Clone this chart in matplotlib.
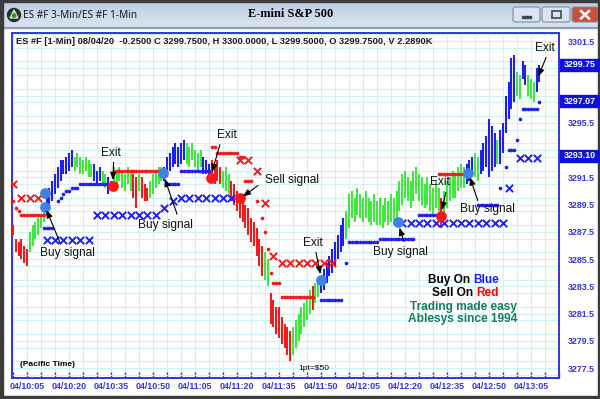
import numpy as np
import matplotlib
matplotlib.use("Agg")
import matplotlib.pyplot as plt
from matplotlib.patches import Rectangle, FancyBboxPatch, Circle, Polygon
from matplotlib.transforms import blended_transform_factory
from matplotlib.ticker import MultipleLocator
from matplotlib.colors import LinearSegmentedColormap

# ---------------- data ----------------
first_bar = -5  # minutes after 10:05 of the first 1-min bar
highs = [
    3288.0, 3287.0, 3286.75, 3287.0, 3286.5, 3286.25, 3287.5, 3288.0, 3288.25, 3288.5,
    3288.75, 3289.25, 3290.25, 3290.75, 3291.25, 3291.75, 3292.25, 3292.75, 3292.75, 3293.0,
    3293.25, 3293.5, 3293.0, 3293.25, 3293.0, 3292.75, 3293.0, 3292.75, 3292.5, 3292.5,
    3292.0, 3292.25, 3292.0, 3291.75, 3291.5, 3291.25, 3292.25, 3292.0, 3292.25, 3292.0,
    3291.75, 3292.25, 3292.0, 3291.75, 3291.5, 3291.75, 3291.5, 3291.0, 3290.75, 3291.25,
    3291.75, 3292.0, 3292.25, 3292.25, 3292.25, 3293.0, 3293.25, 3293.75, 3294.0, 3293.75,
    3294.0, 3294.25, 3294.0, 3293.75, 3294.0, 3293.5, 3293.25, 3293.5, 3293.0, 3292.75,
    3292.5, 3292.75, 3292.5, 3292.75, 3292.25, 3292.0, 3292.25, 3291.75, 3291.25, 3291.0,
    3290.5, 3290.25, 3290.0, 3289.5, 3289.25, 3288.5, 3288.25, 3287.75, 3287.0, 3286.5,
    3286.0, 3285.5, 3283.0, 3282.5, 3282.0, 3282.0, 3281.25, 3280.75, 3280.5, 3280.25,
    3280.5, 3281.0, 3281.5, 3282.0, 3282.25, 3282.75, 3283.25, 3283.5, 3283.75, 3284.0,
    3284.25, 3284.75, 3285.25, 3285.75, 3286.25, 3286.75, 3287.25, 3288.0, 3288.5, 3289.0,
    3290.25, 3290.5, 3290.0, 3290.75, 3290.25, 3290.0, 3290.5, 3290.0, 3289.75, 3290.25,
    3289.75, 3290.0, 3289.5, 3290.0, 3289.75, 3290.25, 3290.0, 3290.5, 3291.25, 3291.75,
    3292.0, 3291.5, 3291.25, 3292.0, 3292.25, 3291.75, 3291.5, 3291.0, 3291.5, 3291.0,
    3290.75, 3291.25, 3290.75, 3290.0, 3290.5, 3291.25, 3291.5, 3292.0, 3291.75, 3292.25,
    3292.5, 3292.25, 3292.5, 3292.75, 3293.0, 3293.25, 3293.0, 3293.5, 3294.0, 3294.5,
    3295.75, 3295.25, 3294.75, 3294.25, 3295.0, 3295.5, 3297.5, 3298.5, 3300.25, 3300.5,
    3299.25, 3299.0, 3300.0, 3299.75, 3299.0, 3298.75, 3298.5, 3299.5, 3299.75,
]
lows = [
    3287.25, 3286.0, 3285.75, 3285.5, 3285.25, 3285.0, 3286.0, 3286.5, 3287.0, 3287.25,
    3287.75, 3288.25, 3288.75, 3289.25, 3289.75, 3290.25, 3290.75, 3291.25, 3291.75, 3291.75,
    3292.0, 3292.25, 3292.0, 3292.25, 3291.75, 3291.75, 3292.0, 3291.5, 3291.5, 3291.25,
    3291.0, 3291.25, 3291.0, 3290.75, 3290.25, 3290.5, 3291.0, 3290.75, 3291.25, 3290.75,
    3290.5, 3291.0, 3290.5, 3290.0, 3289.25, 3290.5, 3290.0, 3289.75, 3289.75, 3290.0,
    3290.25, 3290.75, 3291.0, 3291.25, 3291.25, 3291.5, 3292.0, 3292.25, 3292.5, 3292.25,
    3292.5, 3292.75, 3292.5, 3292.25, 3292.75, 3292.25, 3292.0, 3292.25, 3291.75, 3291.75,
    3291.5, 3291.25, 3291.0, 3291.25, 3291.0, 3290.75, 3290.5, 3290.25, 3289.75, 3289.5,
    3289.0, 3288.5, 3288.25, 3287.75, 3287.25, 3286.75, 3286.5, 3285.75, 3285.0, 3284.25,
    3284.0, 3283.5, 3280.75, 3280.5, 3280.0, 3279.75, 3279.25, 3279.0, 3278.5, 3278.0,
    3278.5, 3279.0, 3279.5, 3280.0, 3280.5, 3281.0, 3281.5, 3281.75, 3282.25, 3282.75,
    3283.0, 3283.25, 3283.75, 3284.25, 3284.5, 3285.0, 3285.5, 3286.0, 3286.5, 3287.0,
    3287.75, 3288.5, 3288.25, 3288.75, 3288.5, 3288.25, 3288.5, 3288.25, 3288.0, 3288.25,
    3288.0, 3288.0, 3287.75, 3288.25, 3288.0, 3288.25, 3288.0, 3288.5, 3289.0, 3289.5,
    3290.0, 3289.75, 3289.25, 3289.75, 3290.25, 3289.75, 3289.5, 3289.25, 3289.5, 3289.0,
    3288.75, 3289.25, 3289.0, 3287.75, 3288.75, 3289.25, 3289.75, 3290.0, 3290.0, 3290.5,
    3290.75, 3290.75, 3291.0, 3291.25, 3291.5, 3291.5, 3291.25, 3291.75, 3292.0, 3292.25,
    3291.5, 3292.0, 3292.25, 3292.5, 3292.5, 3293.25, 3294.75, 3295.75, 3296.5, 3297.0,
    3297.5, 3297.25, 3298.75, 3298.25, 3297.5, 3297.25, 3297.0, 3297.75, 3298.5,
]
color_runs = [
    ("r", 6), ("g", 6), ("b", 10), ("g", 7), ("b", 3), ("g", 2), ("b", 1), ("r", 1),
    ("g", 7), ("r", 2), ("g", 1), ("r", 3), ("g", 5), ("b", 8), ("g", 6), ("b", 3),
    ("r", 4), ("g", 3), ("r", 12), ("g", 2), ("r", 8), ("g", 7), ("r", 1), ("g", 2),
    ("b", 9), ("g", 34), ("r", 1), ("g", 8), ("b", 3), ("g", 2), ("b", 6), ("g", 1),
    ("b", 6), ("g", 2), ("b", 2), ("g", 3), ("b", 2),
]

# indicator levels: (first minute, last minute, price)
red_dot_runs = [
    (-5, -5, 3289.75), (-4, -4, 3289.25), (-3, -3, 3289.0), (-2, 6, 3288.75),
    (31, 49, 3292.0),
    (66, 67, 3293.75), (68, 75, 3293.25), (76, 77, 3293.0),
    (78, 80, 3291.25), (82, 82, 3289.75), (84, 84, 3288.5), (85, 85, 3287.5),
    (86, 86, 3286.25), (87, 87, 3284.5), (88, 90, 3283.75), (91, 102, 3282.75),
    (147, 156, 3291.75),
]
blue_dot_runs = [
    (6, 9, 3287.75), (11, 11, 3289.75), (12, 12, 3290.0), (13, 13, 3290.25),
    (14, 15, 3290.5), (16, 18, 3290.75), (19, 30, 3291.0),
    (50, 54, 3291.0), (55, 65, 3292.0),
    (105, 112, 3282.5), (114, 114, 3285.25), (115, 125, 3286.75), (126, 138, 3287.0),
    (140, 146, 3288.75), (161, 168, 3289.5), (169, 169, 3290.75), (171, 171, 3292.25),
    (172, 174, 3293.5), (175, 175, 3294.25), (176, 176, 3295.75), (177, 182, 3296.5),
    (183, 183, 3297.0),
]
# 3-min target markers: (first minute, last minute, price)
red_x_runs = [
    (-5, -5, 3291.0), (-2, 4, 3290.0), (76, 79, 3292.75), (82, 82, 3292.0),
    (85, 85, 3289.6), (88, 88, 3285.75), (91, 109, 3285.25),
]
blue_x_runs = [
    (7, 22, 3286.9), (25, 46, 3288.75), (49, 49, 3289.25), (52, 52, 3289.75),
    (55, 73, 3290.0), (134, 170, 3288.15), (172, 172, 3290.75), (176, 182, 3292.9),
]
blue_sig_t = [6.4, 6.4, 48.6, 105.0, 132.5, 157.5]
blue_sig_p = [3290.35, 3289.3, 3291.8, 3284.0, 3288.2, 3291.8]
red_sig_t = [30.7, 65.7, 76.0, 148.0]
red_sig_p = [3290.86, 3291.45, 3290.0, 3288.66]

# annotations: label, text position (minute, price), arrow start, arrow end
notes = [
    ("Buy signal", (14.6, 3285.95), (11.8, 3286.7), (7.0, 3289.1)),
    ("Exit", (30.0, 3293.3), (30.9, 3292.6), (30.7, 3291.3)),
    ("Buy signal", (49.6, 3288.0), (53.6, 3288.8), (49.2, 3291.4)),
    ("Exit", (71.4, 3294.6), (68.9, 3293.9), (66.1, 3291.9)),
    ("Sell signal", (94.6, 3291.3), (82.5, 3290.9), (77.1, 3290.1)),
    ("Exit", (102.1, 3286.7), (103.2, 3286.0), (104.8, 3284.4)),
    ("Buy signal", (133.2, 3286.0), (134.6, 3286.8), (133.0, 3287.8)),
    ("Exit", (147.5, 3291.15), (149.6, 3290.4), (148.2, 3289.1)),
    ("Buy signal", (164.6, 3289.2), (161.0, 3289.8), (158.2, 3291.5)),
    ("Exit", (185.0, 3301.0), (185.4, 3300.3), (182.6, 3298.9)),
]

x_tick_minutes = list(range(0, 181, 15))
x_tick_labels = ["04/10:05", "04/10:20", "04/10:35", "04/10:50", "04/11:05", "04/11:20",
                 "04/11:35", "04/11:50", "04/12:05", "04/12:20", "04/12:35", "04/12:50",
                 "04/13:05"]
y_ticks = [3277.5 + 2 * i for i in range(13)]
price_boxes = [3299.75, 3297.07, 3293.10]

header = ("ES #F [1-Min] 08/04/20  -0.2500 C 3299.7500, H 3300.0000, "
          "L 3299.5000, O 3299.7500, V 2.2890K")

# ---------------- styling ----------------
RED = "#f21a1a"
GREEN = "#3ee83e"
BLUE = "#1f1ff0"
CMAP = {"r": RED, "g": GREEN, "b": BLUE}
AXBLUE = "#3434d8"
GRID = "#cdf4f4"
FONT = "Liberation Sans"

W, H = 600, 399
fig = plt.figure(figsize=(W / 100, H / 100), dpi=100)
fig.patch.set_facecolor("white")

# --- window chrome (pixel coordinates) ---
bg = fig.add_axes([0, 0, 1, 1])
bg.set_xlim(0, W)
bg.set_ylim(H, 0)
bg.axis("off")
grad = np.linspace(0, 1, 64).reshape(-1, 1)
tcm = LinearSegmentedColormap.from_list("tb", ["#b9cce1", "#d9e4f0"])
bg.imshow(grad, extent=[0, W, 27, 0], cmap=tcm, aspect="auto", zorder=0)
bg.add_patch(Rectangle((0, 27), W, 1, color="#8fa0b5", zorder=1))
for r in [Rectangle((0, 0), W, 1.5), Rectangle((0, H - 3), W, 3),
          Rectangle((0, 0), 2.5, H), Rectangle((W - 2.5, 0), 2.5, H)]:
    r.set_color("#3c3c3c")
    r.set_zorder(3)
    bg.add_patch(r)
bg.add_patch(Circle((14, 15), 6.5, color="#2e2e2e", zorder=2))
bg.add_patch(Polygon([[14, 10], [10, 18], [18, 18]], closed=True, color="#bfe8b0", zorder=3))
bg.add_patch(Circle((14, 15.5), 1.6, color="#3a8a3a", zorder=4))
bg.text(23, 15.5, "ES #F 3-Min/ES #F 1-Min", fontsize=7.2, family="Noto Sans",
        va="center", ha="left", color="#1a1a1a")
bg.text(291, 14, "E-mini S&P 500", fontsize=8.8, family="Liberation Serif",
        fontweight="bold", va="center", ha="center", color="black")
for x0, w, fc in [(513, 27, "#dbe4ee"), (542, 28, "#dbe4ee"), (572, 26, "#c9503f")]:
    bg.add_patch(FancyBboxPatch((x0, 7), w, 15, boxstyle="round,pad=0,rounding_size=2.5",
                                fc=fc, ec="#7d8ea3", lw=0.8, zorder=2))
bg.add_patch(Rectangle((522, 15.5), 9, 2.2, color="#3a4a5e", zorder=3))
bg.add_patch(Rectangle((551.5, 11), 9, 7, fill=False, ec="#3a4a5e", lw=1.2, zorder=3))
bg.plot([581, 589], [11, 18.5], color="white", lw=1.8, zorder=3)
bg.plot([581, 589], [18.5, 11], color="white", lw=1.8, zorder=3)

# --- main chart axes ---
L, T, R, B = 12, 33, 559, 378
ax = fig.add_axes([L / W, 1 - B / H, (R - L) / W, (B - T) / H])
ax.set_facecolor("white")
ax.set_xlim(-5.36, 190.0)
ax.set_ylim(3276.78, 3302.09)

ax.set_xticks(x_tick_minutes)
ax.set_xticklabels(x_tick_labels)
ax.xaxis.set_minor_locator(MultipleLocator(5))
ax.set_yticks(y_ticks)


def covered(v):
    return any(abs(v - b) < 0.75 for b in price_boxes)


ax.set_yticklabels(["" if covered(v) else f"{v:.1f}" for v in y_ticks])
ax.yaxis.set_minor_locator(MultipleLocator(1))
ax.yaxis.tick_right()
ax.grid(True, which="both", color=GRID, lw=0.8, zorder=0)
ax.set_axisbelow(True)
ax.tick_params(axis="x", which="both", direction="in", length=4, width=1,
               color=AXBLUE, pad=3, labelsize=6.4, labelcolor=AXBLUE)
ax.tick_params(axis="y", which="both", length=0, pad=6, labelsize=6.4,
               labelcolor=AXBLUE)
for lab in ax.get_xticklabels() + ax.get_yticklabels():
    lab.set_fontweight("bold")
    lab.set_family(FONT)
for sp in ax.spines.values():
    sp.set_color(AXBLUE)
    sp.set_linewidth(1.4)

bar_colors = []
for c, n in color_runs:
    bar_colors += [CMAP[c]] * n
bar_t = np.arange(first_bar, first_bar + len(highs))
ax.vlines(bar_t, lows, highs, colors=bar_colors, lw=1.5, zorder=3)


def expand(runs, step):
    ts, ps = [], []
    for a, b, p in runs:
        for t in range(a, b + 1, step):
            ts.append(t)
            ps.append(p)
    return ts, ps


rt, rp = expand(red_dot_runs, 1)
ax.scatter(rt, rp, s=7, color=RED, zorder=4, lw=0)
bt, bp = expand(blue_dot_runs, 1)
ax.scatter(bt, bp, s=7, color=BLUE, zorder=4, lw=0)
rxt, rxp = expand(red_x_runs, 3)
ax.scatter(rxt, rxp, s=28, marker="x", color=RED, lw=1.4, zorder=4)
bxt, bxp = expand(blue_x_runs, 3)
ax.scatter(bxt, bxp, s=28, marker="x", color=BLUE, lw=1.4, zorder=4)

ax.scatter(blue_sig_t, blue_sig_p, s=60, color="#3f82e6", zorder=5, lw=0)
ax.scatter(red_sig_t, red_sig_p, s=60, color="#ff1515", zorder=5, lw=0)

for label, tp, a0, a1 in notes:
    ax.text(tp[0], tp[1], label, fontsize=8.6, family=FONT, ha="center",
            va="center", color="#111111", zorder=6)
    ax.annotate("", xy=a1, xytext=a0,
                arrowprops=dict(arrowstyle="-|>,head_length=0.45,head_width=0.18",
                                color="black", lw=0.8, shrinkA=0, shrinkB=0), zorder=6)

ax.text(4 / (R - L), 1 - 9 / (B - T), header, transform=ax.transAxes, fontsize=6.7,
        family=FONT, fontweight="bold", ha="left", va="center", color="#1a1a1a")
ax.text(8 / (R - L), 14 / (B - T), "(Pacific Time)", transform=ax.transAxes,
        fontsize=6.0, family=FONT, fontweight="bold", ha="left", va="center")
ax.text((298 - L) / (R - L), 10 / (B - T), "1pt=$50", transform=ax.transAxes,
        fontsize=6.0, family=FONT, ha="left", va="center")


def px(x, y):
    return (x - L) / (R - L), (B - y) / (B - T)


kw = dict(transform=ax.transAxes, fontsize=8.6, family=FONT, fontweight="bold",
          va="center", zorder=6)
ax.text(*px(470.5, 280), "Buy On", ha="right", color="black", **kw)
ax.text(*px(473.5, 280), "Blue", ha="left", color="#1a1aff", **kw)
ax.text(*px(473.5, 293), "Sell On", ha="right", color="black", **kw)
ax.text(*px(476.5, 293), "Red", ha="left", color="#ff0000", **kw)
ax.text(*px(463, 307), "Trading made easy", ha="center", color="#137d5c", **kw)
ax.text(*px(463, 319), "Ablesys since 1994", ha="center", color="#137d5c", **kw)

btr = blended_transform_factory(ax.transAxes, ax.transData)
bh = 12 / 13.63
for v in price_boxes:
    ax.add_patch(Rectangle(((560 - L) / (R - L), v - bh / 2), 45 / (R - L), bh,
                           transform=btr, color="#1010d8", clip_on=False, zorder=8))
    ax.text((563.5 - L) / (R - L), v, f"{v:.2f}", transform=btr, fontsize=6.4,
            family=FONT, fontweight="bold", color="white", va="center", ha="left",
            clip_on=False, zorder=9)

fig.savefig("out.png", dpi=100)
